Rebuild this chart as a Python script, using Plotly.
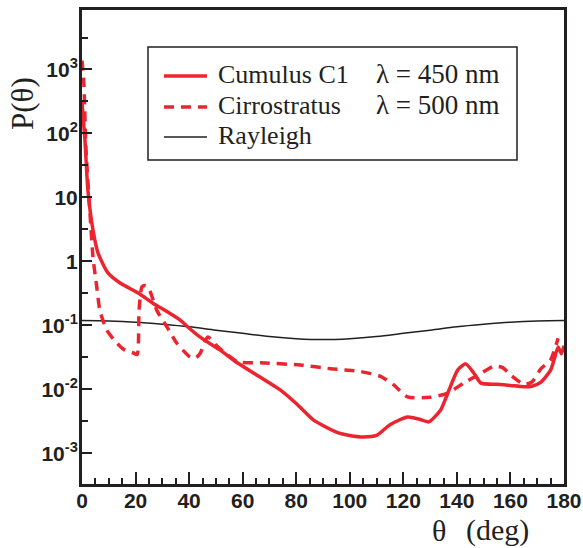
import plotly.graph_objects as go

# Scattering angle (deg) and phase-function values for each curve
cumulus_theta = [0, 1.1, 2.2, 4.1, 6, 9.7, 14.2, 21, 26.6, 31.7, 36.7, 39.3, 44, 51.6, 58,
                 66, 74, 80, 86.5, 95.5, 100, 105, 110, 115, 121.6, 126, 129.5, 134, 136.6,
                 140.3, 143.3, 146.3, 149, 155, 160, 165, 168, 171.4, 175, 176.3, 177.8,
                 179, 180]
cumulus_p = [310, 79, 13, 3.1, 1.35, 0.66, 0.46, 0.32, 0.22, 0.165, 0.121, 0.096, 0.066, 0.041, 0.026,
             0.016, 0.0098, 0.006, 0.0033, 0.0021, 0.0019, 0.0018, 0.0019, 0.0028, 0.0037, 0.0034,
             0.0031, 0.0048, 0.0087, 0.020, 0.025, 0.018, 0.0125, 0.012, 0.0115, 0.011, 0.0112,
             0.013, 0.020, 0.029, 0.046, 0.036, 0.048]

cirro_theta = [0, 0.7, 1.5, 3, 4.1, 5.5, 6.7, 9.2, 13, 16, 19.2, 20.6, 21.3, 22.4, 23.5, 24.7,
               28, 31.7, 35.5, 40.4, 42.5, 44.2, 47, 50.5, 55, 58, 66.6, 81.6, 92.8, 104, 111.5,
               116.4, 121.6, 130, 136.6, 142.6, 147.8, 153.8, 157, 160.2, 165, 168, 171.4, 175,
               177.8]
cirro_p = [1380, 600, 55, 5.6, 1.17, 0.4, 0.17, 0.085, 0.053, 0.041, 0.037, 0.035, 0.17, 0.40, 0.42, 0.40,
           0.17, 0.095, 0.052, 0.032, 0.031, 0.037, 0.066, 0.047, 0.033, 0.027, 0.026, 0.024, 0.021,
           0.019, 0.016, 0.0117, 0.0076, 0.0075, 0.0087, 0.0126, 0.0166, 0.023, 0.022, 0.0166,
           0.012, 0.013, 0.021, 0.029, 0.063]

rayleigh_theta = [0, 10, 20, 30, 40, 50, 60, 70, 80, 90, 100, 110, 120, 130, 140, 150, 160, 170, 180]
rayleigh_p = [0.119, 0.117, 0.112, 0.104, 0.095, 0.084, 0.075, 0.067, 0.062, 0.060, 0.062, 0.067,
              0.075, 0.084, 0.095, 0.104, 0.112, 0.117, 0.119]

y_tickvals = [1e-3, 1e-2, 1e-1, 1, 10, 100, 1000]
y_ticktext = ["10<sup>-3</sup>", "10<sup>-2</sup>", "10<sup>-1</sup>", "1", "10",
              "10<sup>2</sup>", "10<sup>3</sup>"]
x_tickvals = [0, 20, 40, 60, 80, 100, 120, 140, 160, 180]

legend_names = ["Cumulus C1", "Cirrostratus", "Rayleigh"]
legend_lambda = ["λ = 450 nm", "λ = 500 nm", ""]

RED = "#EC2430"
INK = "#231F20"
W, H = 583, 548
L, R, T, B = 82, 564, 10, 484   # plot-area edges in pixels


def px(xp):
    return (xp - L) / (R - L)


def py(yp):
    return (B - yp) / (B - T)


fig = go.Figure()
fig.add_trace(go.Scatter(x=rayleigh_theta, y=rayleigh_p, mode="lines",
                         line=dict(color=INK, width=1.5, shape="spline"), showlegend=False))
fig.add_trace(go.Scatter(x=cirro_theta, y=cirro_p, mode="lines",
                         line=dict(color=RED, width=3.5, dash="10px,7px", shape="spline",
                                   smoothing=0.6), showlegend=False))
fig.add_trace(go.Scatter(x=cumulus_theta, y=cumulus_p, mode="lines",
                         line=dict(color=RED, width=3.5, shape="spline", smoothing=0.6),
                         showlegend=False))

tickfont = dict(family="Liberation Sans, Arial", size=21, color=INK, weight="bold")

fig.update_xaxes(range=[0, 180], tickvals=x_tickvals, ticks="inside", ticklen=12, tickwidth=2,
                 tickcolor=INK, showline=True, linewidth=3, linecolor=INK, mirror=True,
                 showgrid=False, zeroline=False, tickfont=tickfont, automargin=False,
                 ticklabelstandoff=-4,
                 minor=dict(dtick=5, ticks="inside", ticklen=6, tickwidth=2, tickcolor=INK,
                            showgrid=False))
fig.update_yaxes(type="log", range=[-3.48, 3.93], tickvals=y_tickvals, ticktext=y_ticktext,
                 ticks="inside", ticklen=10, tickwidth=2, tickcolor=INK,
                 showline=True, linewidth=3, linecolor=INK, mirror=True,
                 showgrid=False, zeroline=False, tickfont=tickfont, automargin=False,
                 ticklabelstandoff=-3,
                 minor=dict(tickmode="array", tickvals=[10 ** (k + 0.5) for k in range(-4, 4)],
                            ticks="inside", ticklen=6, tickwidth=2, tickcolor=INK,
                            showgrid=False))

serif = dict(family="Liberation Serif, Times New Roman", color=INK)

shapes = [dict(type="rect", xref="paper", yref="paper", x0=px(148), x1=px(517), y0=py(160), y1=py(47),
               line=dict(color=INK, width=1.5), fillcolor="white", layer="below")]
sample_styles = [dict(color=RED, width=3.5), dict(color=RED, width=3.5, dash="10px,7px"),
                 dict(color=INK, width=1.5)]
row_y = [76, 107, 137]
annotations = []
for name, lam, yrow, st in zip(legend_names, legend_lambda, row_y, sample_styles):
    shapes.append(dict(type="line", xref="paper", yref="paper", x0=px(164), x1=px(207),
                       y0=py(yrow), y1=py(yrow), line=st))
    annotations.append(dict(text=name, xref="paper", yref="paper", x=px(216), y=py(yrow - 2),
                            xanchor="left", yanchor="middle", showarrow=False,
                            font=dict(size=26, **serif)))
    if lam:
        annotations.append(dict(text=lam, xref="paper", yref="paper", x=px(374), y=py(yrow - 2),
                                xanchor="left", yanchor="middle", showarrow=False,
                                font=dict(size=27, **serif)))

annotations += [
    dict(text="P(θ)", xref="paper", yref="paper", x=px(22), y=py(104), textangle=-90,
         xanchor="center", yanchor="middle", showarrow=False, font=dict(size=31, **serif)),
    dict(text="θ", xref="paper", yref="paper", x=px(439), y=py(530),
         xanchor="center", yanchor="middle", showarrow=False, font=dict(size=30, **serif)),
    dict(text="(deg)", xref="paper", yref="paper", x=px(464), y=py(530),
         xanchor="left", yanchor="middle", showarrow=False, font=dict(size=30, **serif)),
]

fig.update_layout(width=W, height=H, margin=dict(l=L, r=W - R, t=T, b=H - B),
                  plot_bgcolor="white", paper_bgcolor="white",
                  shapes=shapes, annotations=annotations, showlegend=False)

fig.write_html("out.html")
